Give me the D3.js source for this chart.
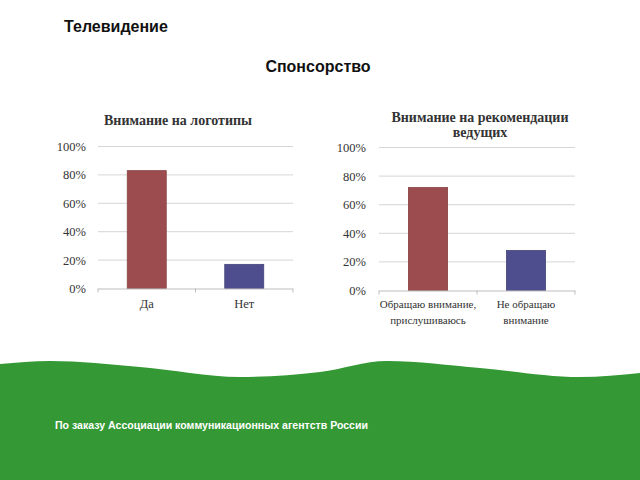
<!DOCTYPE html>
<html><head><meta charset="utf-8">
<script src="https://cdn.jsdelivr.net/npm/d3@7"></script>
<style>body{margin:0;background:#fff}svg{display:block}</style>
</head><body>
<script>
const pageTitle = "Телевидение";
const sectionTitle = "Спонсорство";
const footerText = "По заказу Ассоциации коммуникационных агентств России";

const chart1Title = ["Внимание на логотипы"];
const chart1Categories = ["Да", "Нет"];
const chart1Values = [0.83, 0.17];

const chart2Title = ["Внимание на рекомендации", "ведущих"];
const chart2Categories = [["Обращаю внимание,", "прислушиваюсь"], ["Не обращаю", "внимание"]];
const chart2Values = [0.72, 0.28];

const yTicks = [0, 0.2, 0.4, 0.6, 0.8, 1.0];
const barColors = ["#9c4c4f", "#4e4e8e"];

const wavePoints = [[0,364],[50,361],[140,367],[240,377],[320,372],[387,361],[480,368],[580,377],[640,373]];

const W = 640, H = 480;
const svg = d3.select("body").append("svg").attr("width", W).attr("height", H);

// green wave background
const wave = d3.line().curve(d3.curveMonotoneX);
const d = wave(wavePoints) + `L${W},${H}L0,${H}Z`;
svg.append("path").attr("d", d).attr("fill", "#349934");

svg.append("text").attr("x", 64).attr("y", 32).text(pageTitle)
  .attr("font-family", "Liberation Sans, Arial, sans-serif").attr("font-weight", "bold")
  .attr("font-size", 16).attr("fill", "#111");
svg.append("text").attr("x", 318).attr("y", 72).attr("text-anchor", "middle").text(sectionTitle)
  .attr("font-family", "Liberation Sans, Arial, sans-serif").attr("font-weight", "bold")
  .attr("font-size", 16).attr("fill", "#111");

svg.append("text").attr("x", 55).attr("y", 429).text(footerText)
  .attr("font-family", "Liberation Sans Narrow, Arial Narrow, Liberation Sans, sans-serif")
  .attr("font-weight", "bold").attr("font-size", 10.5).attr("fill", "#fff")
  .attr("textLength", 313).attr("lengthAdjust", "spacingAndGlyphs");

function drawChart(opt) {
  const g = svg.append("g");
  const serif = "Liberation Serif, Times New Roman, serif";
  const x = d3.scaleBand().domain(d3.range(opt.values.length)).range([opt.x0, opt.x1]).padding(0);
  const y = d3.scaleLinear().domain([0, 1]).range([opt.y0, opt.y1]);

  // gridlines
  g.selectAll("line.grid").data(yTicks.filter(t => t > 0)).enter().append("line")
    .attr("x1", opt.x0).attr("x2", opt.x1)
    .attr("y1", d => y(d)).attr("y2", d => y(d))
    .attr("stroke", "#d6d6d6").attr("stroke-width", 1);

  // y tick labels
  const yAxis = d3.axisLeft(y).tickValues(yTicks).tickFormat(d3.format(".0%")).tickSize(0).tickPadding(opt.x0 - opt.labelRight);
  const ya = g.append("g").attr("transform", `translate(${opt.x0},0)`).call(yAxis);
  ya.select(".domain").remove();
  ya.selectAll("text").attr("font-family", serif).attr("font-size", 12.5).attr("fill", "#333");

  // bars
  const bw = x.bandwidth() * 0.4;
  g.selectAll("rect.bar").data(opt.values).enter().append("rect")
    .attr("x", (d, i) => x(i) + x.bandwidth() / 2 - bw / 2)
    .attr("y", d => y(d)).attr("width", bw).attr("height", d => y(0) - y(d))
    .attr("fill", (d, i) => barColors[i])
    .attr("stroke", (d, i) => d3.color(barColors[i]).darker(0.4)).attr("stroke-width", 0.8);

  // x axis
  const xa = g.append("g").attr("transform", `translate(0,${opt.y0})`);
  xa.append("line").attr("x1", opt.x0).attr("x2", opt.x1).attr("y1", 0.5).attr("y2", 0.5)
    .attr("stroke", "#bdbdbd");
  const bounds = [opt.x0].concat(d3.range(opt.values.length).map(i => x(i) + x.bandwidth()));
  xa.selectAll("line.tk").data(bounds).enter().append("line")
    .attr("x1", d => d).attr("x2", d => d).attr("y1", 0).attr("y2", 4).attr("stroke", "#bdbdbd");

  // category labels
  opt.categories.forEach((c, i) => {
    const lines = Array.isArray(c) ? c : [c];
    lines.forEach((ln, j) => {
      g.append("text").attr("x", x(i) + x.bandwidth() / 2).attr("y", opt.catY + j * opt.catLH)
        .attr("text-anchor", "middle").attr("font-family", serif)
        .attr("font-size", opt.catSize).attr("fill", "#333").text(ln);
    });
  });

  // title
  opt.title.forEach((t, j) => {
    g.append("text").attr("x", opt.titleX).attr("y", opt.titleY + j * 15)
      .attr("text-anchor", "middle").attr("font-family", serif).attr("font-weight", "bold")
      .attr("font-size", 14).attr("fill", "#333").text(t);
  });
}

drawChart({x0: 98, x1: 293, y0: 288.5, y1: 146.5, labelRight: 86, values: chart1Values,
  categories: chart1Categories, catY: 308, catLH: 16, catSize: 12.5,
  title: chart1Title, titleX: 178, titleY: 125});
drawChart({x0: 379, x1: 575, y0: 290.5, y1: 147.5, labelRight: 366, values: chart2Values,
  categories: chart2Categories, catY: 307.5, catLH: 16, catSize: 11,
  title: chart2Title, titleX: 480, titleY: 122});
</script>
</body></html>
